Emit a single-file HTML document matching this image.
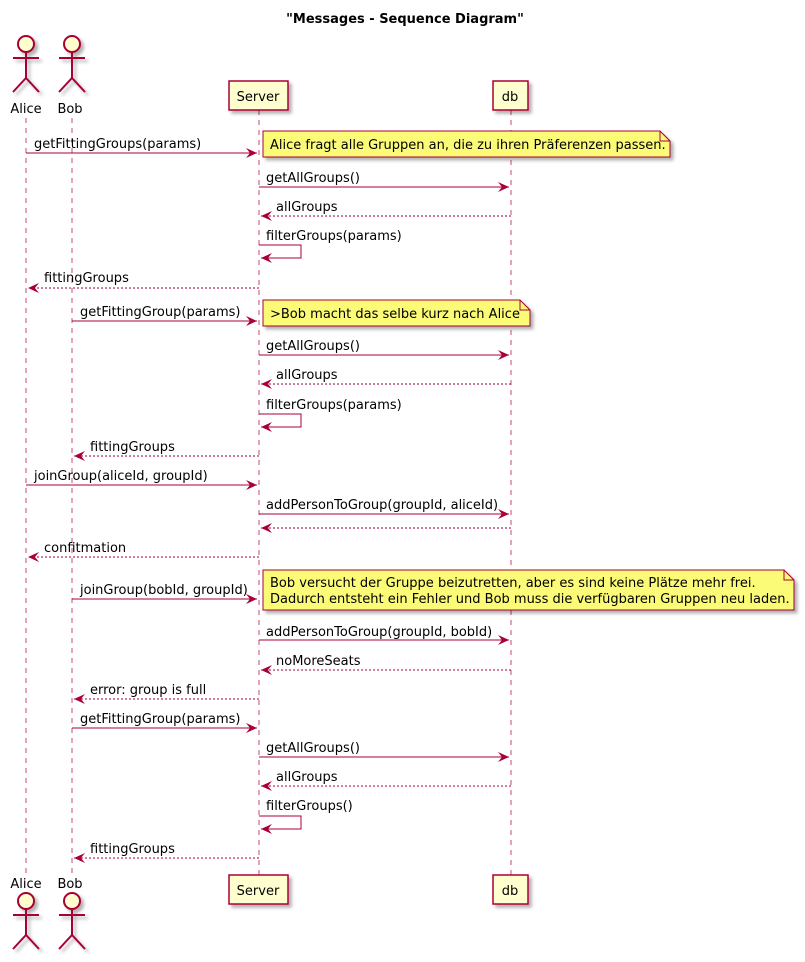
<!DOCTYPE html>
<html><head><meta charset="utf-8"><style>
body{margin:0;background:#fff}
svg{display:block;font-family:"DejaVu Sans","Liberation Sans",sans-serif}
</style></head><body>
<svg width="805" height="962" viewBox="0 0 805 962" xmlns="http://www.w3.org/2000/svg">
<defs>
<filter id="sh" x="-10%" y="-10%" width="130%" height="150%"><feDropShadow dx="3" dy="3" stdDeviation="1.5" flood-color="#000" flood-opacity="0.3"/></filter>
<marker id="a" markerWidth="12" markerHeight="10" refX="11" refY="5" orient="auto" markerUnits="userSpaceOnUse"><path d="M0,0 L11,5 L0,10 L4,5 Z" fill="#A80036"/></marker>
</defs>
<text x="405" y="23" text-anchor="middle" font-size="13" font-weight="bold">"Messages - Sequence Diagram"</text>
<g stroke="#A80036" stroke-width="1" stroke-dasharray="5,5" opacity="0.7">
<line x1="26" y1="118" x2="26" y2="875"/><line x1="72" y1="118" x2="72" y2="875"/>
<line x1="259" y1="110" x2="259" y2="875"/><line x1="511" y1="110" x2="511" y2="875"/>
</g>
<g fill="#FEFECE" stroke="#A80036" stroke-width="1.5" filter="url(#sh)">
<rect x="229" y="81" width="59" height="29"/><rect x="493" y="81" width="35" height="29"/>
<rect x="229" y="875" width="59" height="29"/><rect x="493" y="875" width="35" height="29"/>
</g>
<g font-size="13" text-anchor="middle">
<text x="258" y="101">Server</text><text x="510" y="101">db</text>
<text x="258" y="895">Server</text><text x="510" y="895">db</text>
<text x="26" y="113">Alice</text><text x="70" y="113">Bob</text>
<text x="26" y="888">Alice</text><text x="70" y="888">Bob</text>
</g>
<g fill="#FEFECE" stroke="#A80036" stroke-width="2" filter="url(#sh)">
<g id="act"><circle cx="26" cy="44" r="8"/><path d="M26,52 V78 M13,58 H39 M13,92 L26,78 L39,92" fill="none"/></g>
<g transform="translate(46,0)"><circle cx="26" cy="44" r="8"/><path d="M26,52 V78 M13,58 H39 M13,92 L26,78 L39,92" fill="none"/></g>
<g transform="translate(0,857)"><circle cx="26" cy="44" r="8"/><path d="M26,52 V78 M13,58 H39 M13,92 L26,78 L39,92" fill="none"/></g>
<g transform="translate(46,857)"><circle cx="26" cy="44" r="8"/><path d="M26,52 V78 M13,58 H39 M13,92 L26,78 L39,92" fill="none"/></g>
</g>
<g fill="#FBFB77" stroke="#A80036" stroke-width="1" filter="url(#sh)">
<path d="M263,131 H660 L670,141 V157 H263 Z"/>
<path d="M263,300 H520 L530,310 V326 H263 Z"/>
<path d="M263,570 H784 L794,580 V610 H263 Z"/>
</g>
<g fill="none" stroke="#A80036" stroke-width="1">
<path d="M660,131 V141 H670"/><path d="M520,300 V310 H530"/><path d="M784,570 V580 H794"/>
</g>
<g font-size="13">
<text x="270" y="149">Alice fragt alle Gruppen an, die zu ihren Präferenzen passen.</text>
<text x="270" y="318">&gt;Bob macht das selbe kurz nach Alice</text>
<text x="270" y="587">Bob versucht der Gruppe beizutretten, aber es sind keine Plätze mehr frei.</text>
<text x="270" y="603">Dadurch entsteht ein Fehler und Bob muss die verfügbaren Gruppen neu laden.</text>
</g>
<g stroke="#A80036" stroke-width="1" fill="none" marker-end="url(#a)">
<line x1="26" y1="153" x2="257" y2="153"/>
<line x1="259" y1="187" x2="509" y2="187"/>
<line x1="511" y1="216" x2="261" y2="216" stroke-dasharray="2,2"/>
<path d="M259,245 H301 V258 H261"/>
<line x1="259" y1="288" x2="28" y2="288" stroke-dasharray="2,2"/>
<line x1="72" y1="321" x2="257" y2="321"/>
<line x1="259" y1="355" x2="509" y2="355"/>
<line x1="511" y1="384" x2="261" y2="384" stroke-dasharray="2,2"/>
<path d="M259,414 H301 V427 H261"/>
<line x1="259" y1="456" x2="74" y2="456" stroke-dasharray="2,2"/>
<line x1="26" y1="485" x2="257" y2="485"/>
<line x1="259" y1="514" x2="509" y2="514"/>
<line x1="511" y1="528" x2="261" y2="528" stroke-dasharray="2,2"/>
<line x1="259" y1="557" x2="28" y2="557" stroke-dasharray="2,2"/>
<line x1="72" y1="599" x2="257" y2="599"/>
<line x1="259" y1="640" x2="509" y2="640"/>
<line x1="511" y1="670" x2="261" y2="670" stroke-dasharray="2,2"/>
<line x1="259" y1="699" x2="74" y2="699" stroke-dasharray="2,2"/>
<line x1="72" y1="728" x2="257" y2="728"/>
<line x1="259" y1="757" x2="509" y2="757"/>
<line x1="511" y1="786" x2="261" y2="786" stroke-dasharray="2,2"/>
<path d="M259,816 H301 V829 H261"/>
<line x1="259" y1="858" x2="74" y2="858" stroke-dasharray="2,2"/>
</g>
<g font-size="13">
<text x="34" y="148">getFittingGroups(params)</text>
<text x="266" y="182">getAllGroups()</text>
<text x="276" y="211">allGroups</text>
<text x="266" y="240">filterGroups(params)</text>
<text x="44" y="282">fittingGroups</text>
<text x="80" y="316">getFittingGroup(params)</text>
<text x="266" y="350">getAllGroups()</text>
<text x="276" y="379">allGroups</text>
<text x="266" y="409">filterGroups(params)</text>
<text x="90" y="451">fittingGroups</text>
<text x="34" y="480">joinGroup(aliceId, groupId)</text>
<text x="266" y="509">addPersonToGroup(groupId, aliceId)</text>
<text x="44" y="552">confitmation</text>
<text x="80" y="594">joinGroup(bobId, groupId)</text>
<text x="266" y="636">addPersonToGroup(groupId, bobId)</text>
<text x="276" y="665">noMoreSeats</text>
<text x="90" y="694">error: group is full</text>
<text x="80" y="723">getFittingGroup(params)</text>
<text x="266" y="752">getAllGroups()</text>
<text x="276" y="781">allGroups</text>
<text x="266" y="810">filterGroups()</text>
<text x="90" y="853">fittingGroups</text>
</g>
</svg>
</body></html>
